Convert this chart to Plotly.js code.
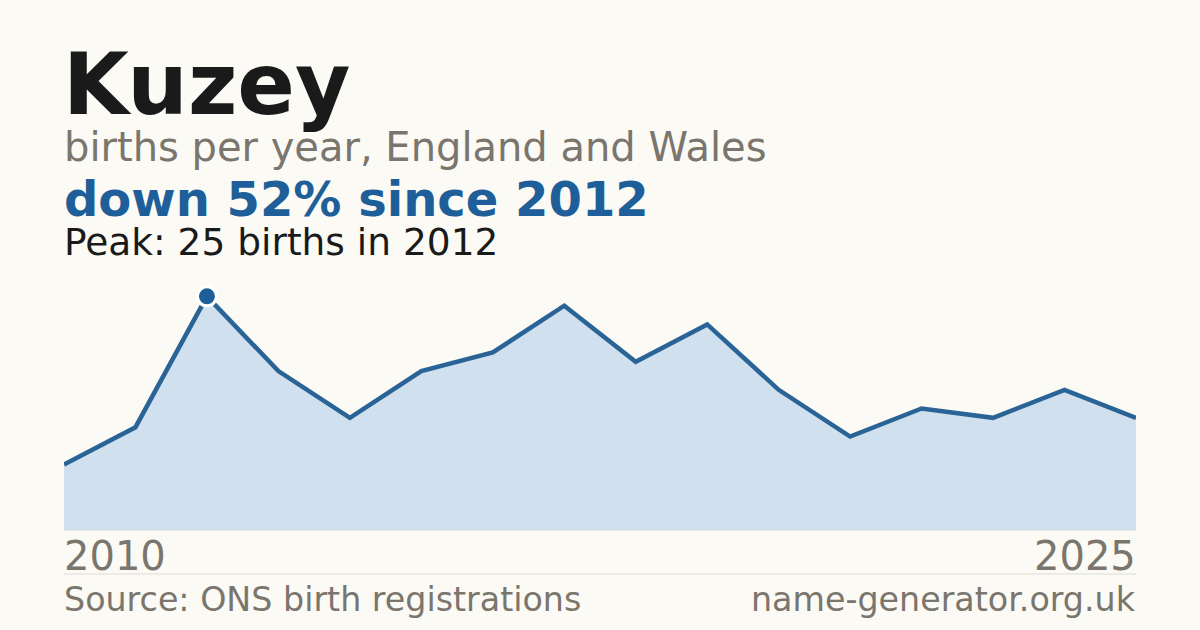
<!DOCTYPE html>
<html>
<head>
<meta charset="utf-8">
<script src="https://cdn.plot.ly/plotly-3.0.1.min.js"></script>
<style>
  html, body { margin: 0; padding: 0; background: #fbfaf5; }
  #chart { width: 1200px; height: 630px; }
</style>
</head>
<body>
<div id="chart"></div>
<script>
var years = [2010, 2011, 2012, 2013, 2014, 2015, 2016, 2017, 2018, 2019, 2020, 2021, 2022, 2023, 2024, 2025];
var births = [7, 11, 25, 17, 12, 17, 19, 24, 18, 22, 15, 10, 13, 12, 15, 12];
var peakYear = 2012;
var peakValue = 25;

var plotTop = 273, plotBottom = 530;
// convert a pixel row to paper coordinates
function py(px) {
    return (plotBottom - px) / (plotBottom - plotTop);
}

var area = {
    x: years,
    y: births,
    type: 'scatter',
    mode: 'lines',
    fill: 'tozeroy',
    fillcolor: '#d0e0ef',
    line: { color: '#2a6396', width: 4.5 },
    hoverinfo: 'skip'
};

var peak = {
    x: [peakYear],
    y: [peakValue],
    type: 'scatter',
    mode: 'markers',
    marker: { size: 19, color: '#1f5f99', line: { color: '#ffffff', width: 3 } },
    cliponaxis: false,
    hoverinfo: 'skip'
};

function note(text, x, y, size, color, bold, anchor) {
    return {
        xref: 'paper', yref: 'paper',
        x: x, y: py(y),
        xanchor: anchor || 'left', yanchor: 'middle',
        text: bold ? '<b>' + text + '</b>' : text,
        showarrow: false,
        font: { family: 'DejaVu Sans', size: size, color: color }
    };
}

var layout = {
    width: 1200,
    height: 630,
    margin: { l: 64, r: 64, t: plotTop, b: 630 - plotBottom, pad: 0 },
    paper_bgcolor: '#fbfaf5',
    plot_bgcolor: '#fbfaf5',
    showlegend: false,
    xaxis: { range: [2010, 2025], visible: false, fixedrange: true },
    yaxis: { range: [0, 27.5], visible: false, fixedrange: true },
    annotations: [
        note('Kuzey', -0.003, 84, 85, '#1a1a1a', true),
        note('births per year, England and Wales', -0.002, 147, 40, '#7a756d', false),
        note('down 52% since 2012', -0.002, 199, 48, '#1f5f99', true),
        note('Peak: 25 births in 2012', -0.002, 242, 37.5, '#1a1a1a', false),
        note('2010', -0.002, 556, 40, '#7a756d', false),
        note('2025', 1.002, 556, 40, '#7a756d', false, 'right'),
        note('Source: ONS birth registrations', -0.002, 599, 33.3, '#7a756d', false),
        note('name-generator.org.uk', 1.002, 599, 33.3, '#7a756d', false, 'right')
    ],
    shapes: [
        { type: 'line', xref: 'paper', yref: 'paper', x0: 0, x1: 1, y0: 0, y1: 0,
          line: { color: '#dedbd4', width: 1 }, layer: 'below' },
        { type: 'line', xref: 'paper', yref: 'paper', x0: 0, x1: 1, y0: py(574), y1: py(574),
          line: { color: '#dedbd4', width: 1 } }
    ]
};

Plotly.newPlot(document.getElementById('chart'), [area, peak], layout, { displayModeBar: false, staticPlot: true });
</script>
</body>
</html>
